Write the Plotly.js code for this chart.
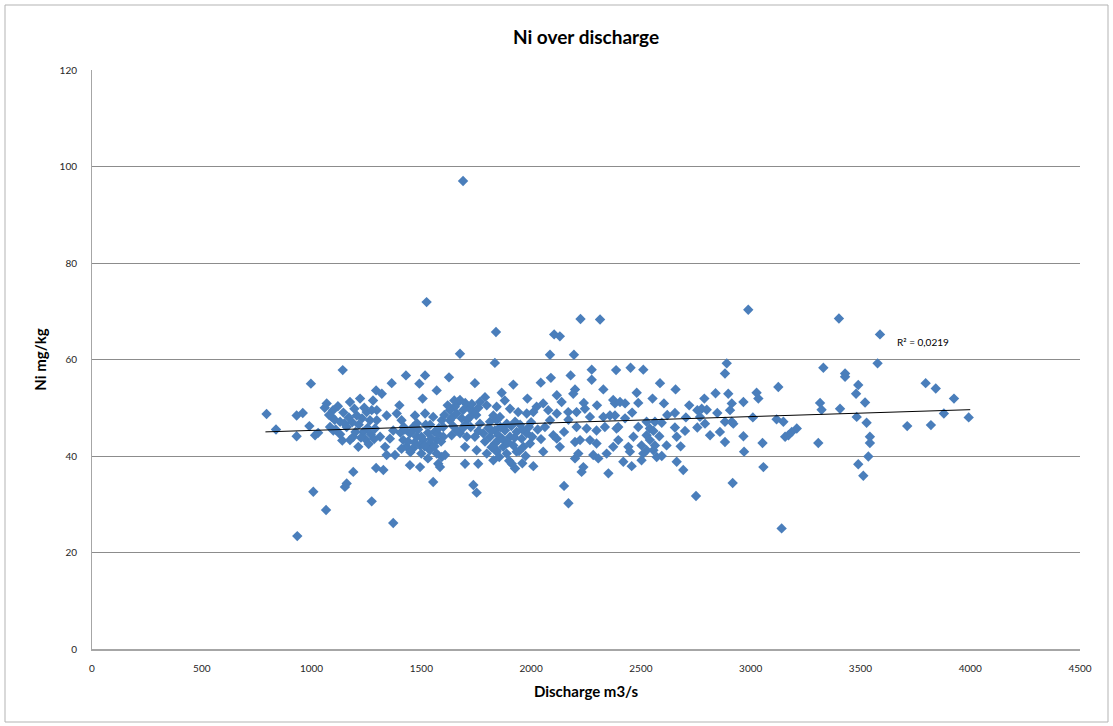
<!DOCTYPE html>
<html>
<head>
<meta charset="utf-8">
<script src="https://cdn.plot.ly/plotly-3.0.1.min.js"></script>
<style>
  html, body { margin: 0; padding: 0; background: #ffffff; }
  #chart { width: 1113px; height: 726px; }
</style>
</head>
<body>
<div id="chart"></div>
<script>
// Discharge (m3/s) and Ni (mg/kg)
const discharge = [
  795, 838, 932, 960, 932, 990, 1016, 1008, 1066, 935,
  997, 1142, 1069, 1098, 1092, 1130, 1175, 1221, 1206, 1251,
  1266, 1160, 1190, 1213, 1235, 1175, 1294, 1297, 1099, 1084,
  1190, 1160, 1152, 1274, 1294, 1030, 1110, 1130, 1676, 1835,
  1430, 1517, 1626, 1365, 1491, 1744, 1320, 1570, 1506, 1790,
  1798, 1668, 1653, 1630, 1714, 1737, 1274, 1342, 1388, 1410,
  1471, 1517, 1554, 1593, 1297, 1289, 1630, 1684, 1722, 1767,
  1813, 1843, 1312, 1357, 1418, 1448, 1479, 1509, 1539, 1433,
  1463, 1494, 1570, 1600, 1638, 1676, 1707, 1744, 1782, 1813,
  1335, 1380, 1342, 1539, 1570, 1593, 1608, 1699, 1752, 1798,
  1448, 1494, 1327, 1577, 1585, 1699, 1759, 1554, 1737, 1752,
  1372, 1835, 1851, 1843, 1661, 1463, 1372, 2131, 2105, 2086,
  2195, 2276, 2276, 2387, 2180, 2090, 2044, 1919, 2200, 2192,
  2329, 1866, 1983, 2117, 2139, 2374, 2382, 2055, 2025, 1843,
  1904, 1941, 1980, 2010, 2078, 2117, 2169, 2207, 2245, 2268,
  2329, 2359, 1858, 1828, 1927, 1889, 2086, 2063, 2207, 2253,
  2298, 2336, 2101, 2117, 1820, 1851, 1881, 1904, 1934, 1957,
  1980, 1995, 1965, 1919, 1873, 1835, 1843, 1889, 1934, 1828,
  1927, 1912, 2010, 2055, 2131, 2200, 2223, 2268, 2298, 2200,
  2215, 2283, 2306, 2344, 2374, 2238, 2230, 2352, 2150, 2170,
  2389, 2397, 2891, 2883, 2453, 2511, 2587, 2658, 2481, 2898,
  2405, 2428, 2488, 2553, 2605, 2789, 2914, 2655, 2757, 2777,
  2800, 2848, 2906, 2382, 2428, 2705, 2769, 2526, 2564, 2595,
  2883, 2921, 2397, 2488, 2541, 2557, 2655, 2701, 2757, 2792,
  2815, 2860, 2466, 2526, 2541, 2584, 2663, 2443, 2450, 2503,
  2526, 2557, 2564, 2617, 2681, 2883, 2511, 2572, 2595, 2420,
  2458, 2503, 2663, 2693, 2751, 2918, 3331, 3430, 3430, 3126,
  3027, 3035, 2967, 3316, 3323, 3407, 3483, 3118, 3149, 2914,
  3210, 3187, 3157, 3172, 2967, 3054, 3308, 2970, 3058, 3141,
  2989, 3402, 3589, 3578, 3490, 3480, 3521, 3528, 3543, 3543,
  3536, 3490, 3513, 3713, 3797, 3843, 3821, 3926, 3880, 3993,
  1524, 1690, 1840, 2225, 2314, 1676, 1721, 1767, 2030, 2045,
  1950, 2000, 2150, 2170, 1600, 1560, 1520, 1420, 1400, 1245,
  1700, 1880, 2240, 2300, 2460, 2620, 2720, 2840, 3010,
  1060, 1080, 1105, 1120, 1145, 1150, 1170, 1185, 1195, 1215,
  1230, 1240, 1255, 1270, 1285, 1200, 1225, 1140, 1260, 1280,
  1405, 1425, 1440, 1455, 1470, 1485, 1500, 1515, 1530, 1545,
  1560, 1575, 1590, 1410, 1450, 1500, 1530, 1480, 1540, 1580,
  1605, 1620, 1640, 1650, 1660, 1690, 1700, 1710, 1730, 1750,
  1760, 1645, 1690, 1725, 1760, 1790, 1805, 1820, 1860, 1870,
  1895, 1910, 1925, 1945, 1960, 1975, 1990, 2005, 1855, 1900,
  1960
];
const nickel = [
  48.7, 45.5, 48.4, 48.9, 44.1, 46.2, 44.3, 32.6, 28.8, 23.4,
  55.0, 57.8, 50.9, 49.5, 48.1, 47.1, 51.2, 51.9, 48.4, 49.1,
  47.4, 46.0, 44.0, 41.9, 45.0, 43.3, 53.6, 49.5, 45.3, 46.0,
  36.7, 34.3, 33.6, 30.6, 37.5, 44.8, 45.5, 44.5, 61.2, 59.3,
  56.7, 56.7, 56.3, 55.1, 55.0, 55.1, 52.9, 53.6, 51.9, 52.2,
  50.5, 51.2, 50.2, 49.5, 50.2, 49.1, 49.5, 48.4, 48.8, 47.4,
  48.4, 48.8, 48.1, 47.4, 47.4, 45.7, 47.4, 47.8, 48.1, 46.7,
  47.1, 47.4, 44.0, 43.6, 43.3, 44.7, 44.0, 43.3, 42.6, 41.9,
  41.6, 42.2, 43.3, 44.0, 44.3, 44.7, 44.0, 44.0, 44.7, 44.0,
  41.9, 40.2, 40.2, 41.2, 40.5, 39.8, 40.2, 41.9, 41.2, 40.5,
  38.1, 37.7, 37.1, 38.4, 37.7, 38.4, 38.4, 34.6, 34.0, 32.4,
  26.1, 45.3, 43.3, 41.2, 45.3, 46.0, 45.3, 64.8, 65.2, 61.0,
  61.0, 57.9, 55.8, 57.8, 56.7, 56.2, 55.2, 54.8, 53.8, 52.9,
  53.8, 53.1, 51.9, 52.6, 51.2, 51.6, 50.9, 50.9, 50.2, 50.2,
  49.8, 49.1, 48.8, 49.1, 49.5, 48.8, 49.1, 49.1, 49.8, 48.1,
  48.1, 48.4, 48.1, 48.4, 47.1, 46.7, 47.4, 46.0, 46.0, 45.7,
  45.3, 46.0, 44.3, 43.6, 45.3, 44.3, 45.3, 44.0, 45.0, 43.6,
  44.7, 42.6, 41.9, 42.2, 41.9, 42.6, 40.9, 40.5, 40.9, 39.1,
  37.4, 38.4, 37.9, 40.9, 41.9, 42.9, 43.3, 43.3, 42.6, 39.5,
  40.5, 40.2, 39.5, 40.5, 41.9, 37.7, 36.7, 36.4, 33.8, 30.2,
  45.7, 43.3, 59.2, 57.1, 58.3, 57.9, 55.1, 53.8, 53.1, 52.9,
  51.2, 50.9, 51.0, 51.9, 50.9, 51.9, 50.9, 48.9, 49.5, 49.8,
  49.6, 48.9, 49.5, 48.4, 47.8, 48.0, 48.1, 47.1, 47.1, 46.9,
  47.1, 46.7, 46.0, 46.0, 45.7, 45.2, 45.9, 45.2, 45.9, 46.7,
  44.3, 45.0, 44.0, 44.3, 43.3, 44.1, 44.0, 41.9, 40.9, 42.2,
  41.2, 41.2, 42.2, 42.2, 42.0, 42.9, 40.5, 39.8, 40.0, 38.8,
  37.9, 39.1, 38.8, 37.1, 31.7, 34.4, 58.3, 57.1, 56.4, 54.3,
  53.1, 51.9, 51.2, 51.0, 49.6, 49.8, 48.1, 47.6, 47.1, 47.1,
  45.7, 45.0, 44.0, 44.3, 44.1, 42.7, 42.7, 40.9, 37.7, 25.0,
  70.3, 68.5, 65.2, 59.2, 54.7, 52.9, 51.1, 46.9, 44.0, 42.7,
  39.9, 38.3, 35.9, 46.2, 55.1, 54.0, 46.4, 51.9, 48.8, 48.0,
  71.9, 97.0, 65.7, 68.4, 68.3, 51.6, 49.8, 51.2, 45.5, 43.5,
  46.5, 47.0, 45.0, 47.5, 46.0, 45.0, 46.5, 46.0, 50.5, 43.5,
  46.5, 51.5, 51.0, 50.5, 49.0, 48.5, 50.5, 53.0, 48.0,
  50.0, 48.5, 47.5, 50.3, 49.0, 46.8, 48.0, 47.0, 49.8, 46.5,
  47.8, 50.0, 45.8, 44.5, 43.5, 45.0, 43.8, 43.2, 42.5, 51.5,
  44.8, 45.5, 43.0, 45.0, 42.8, 45.5, 44.0, 42.0, 44.8, 43.6,
  42.0, 44.6, 43.0, 41.5, 40.8, 40.5, 39.5, 46.8, 46.5, 45.8,
  48.5, 50.5, 48.0, 51.5, 48.8, 49.5, 51.0, 47.5, 50.8, 48.5,
  50.0, 46.2, 45.8, 46.0, 45.2, 43.0, 45.8, 41.8, 46.0, 43.5,
  42.8, 46.2, 43.8, 41.0, 45.5, 40.0, 46.0, 44.0, 39.8, 39.0,
  38.5
];
// Linear trendline endpoints as drawn in the reference
const trendX = [790, 4000];
const trendY = [45.0, 49.6];
const rSquaredLabel = "R² = 0,0219";
const yTicks = [0, 20, 40, 60, 80, 100, 120];
const xTicks = [0, 500, 1000, 1500, 2000, 2500, 3000, 3500, 4000, 4500];

const font = "Lato, 'Open Sans', 'DejaVu Sans', sans-serif";

const traces = [
  {
    type: "scatter", mode: "markers",
    x: discharge, y: nickel,
    marker: { symbol: "diamond", size: 8, color: "#4a7ebb", line: { width: 0 } },
    hoverinfo: "x+y", showlegend: false
  },
  {
    type: "scatter", mode: "lines",
    x: trendX, y: trendY,
    line: { color: "#000000", width: 1 },
    hoverinfo: "skip", showlegend: false
  }
];

const layout = {
  width: 1113, height: 726,
  margin: { l: 92, r: 33, t: 70, b: 77 },
  paper_bgcolor: "#ffffff", plot_bgcolor: "#ffffff",
  font: { family: font, color: "#262626", size: 10 },
  title: {
    text: "<b>Ni over discharge</b>",
    font: { family: font, size: 19, color: "#000000" },
    x: 0.5, xanchor: "center", xref: "paper",
    y: 1 - 37 / 726, yanchor: "middle", yref: "container"
  },
  xaxis: {
    range: [0, 4500], tickvals: xTicks, ticktext: xTicks.map(String),
    showgrid: false, zeroline: false,
    showline: true, linecolor: "#a6a6a6", linewidth: 1.5,
    ticks: "outside", ticklen: 9, tickcolor: "rgba(0,0,0,0)",
    tickfont: { family: font, size: 10, color: "#262626" },
    title: { text: "<b>Discharge m3/s</b>", font: { family: font, size: 15, color: "#000000" }, standoff: 14 },
    automargin: false, fixedrange: true
  },
  yaxis: {
    range: [0, 120], tickvals: yTicks, ticktext: yTicks.map(String),
    showgrid: true, gridcolor: "#8c8c8c", gridwidth: 1,
    zeroline: false,
    showline: true, linecolor: "#a6a6a6", linewidth: 1,
    ticks: "outside", ticklen: 12, tickcolor: "rgba(0,0,0,0)",
    tickfont: { family: font, size: 10, color: "#262626" },
    title: { text: "<b>Ni mg/kg</b>", font: { family: font, size: 15, color: "#000000" }, standoff: 9 },
    automargin: false, fixedrange: true
  },
  annotations: [
    {
      x: 3657, y: 63.6, xref: "x", yref: "y",
      text: rSquaredLabel, showarrow: false,
      xanchor: "left", yanchor: "middle",
      font: { family: font, size: 10, color: "#000000" }
    }
  ],
  shapes: [
    {
      type: "rect", xref: "paper", yref: "paper",
      x0: (5 - 92) / 988, x1: (1108 - 92) / 988,
      y0: (649 - 722) / 579, y1: (649 - 5) / 579,
      line: { color: "#b3b3b3", width: 1 }, fillcolor: "rgba(0,0,0,0)", layer: "below"
    }
  ]
};

Plotly.newPlot("chart", traces, layout, { displayModeBar: false, staticPlot: true });
</script>
</body>
</html>
